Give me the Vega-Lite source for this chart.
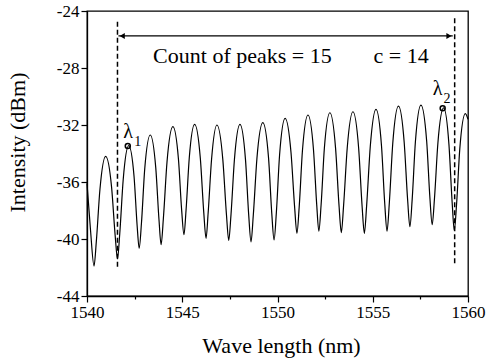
{
  "$schema": "https://vega.github.io/schema/vega-lite/v6.json",
  "width": 381,
  "height": 285,
  "autosize": {"type": "none"},
  "padding": {"left": 87, "top": 11, "right": 18, "bottom": 64},
  "background": "white",
  "config": {
    "view": {"stroke": "black", "strokeWidth": 1.3},
    "font": "Liberation Serif",
    "axis": {"grid": false, "domainColor": "black", "domainWidth": 1.3, "tickColor": "black", "tickWidth": 1.2, "labelColor": "black", "titleColor": "black", "labelFont": "Liberation Serif", "titleFont": "Liberation Serif", "labelFontSize": 17, "titleFontSize": 22, "titleFontWeight": "normal", "labelFlush": false, "labelOverlap": false}
  },
  "datasets": {
    "curve": [
      {"x":1540.0,"y":-36.1},{"x":1540.18,"y":-39.3},{"x":1540.37,"y":-41.9},{"x":1540.49,"y":-40.17},{"x":1540.68,"y":-36.51},
      {"x":1540.98,"y":-34.2},{"x":1541.29,"y":-36.36},{"x":1541.48,"y":-39.78},{"x":1541.6,"y":-41.4},{"x":1541.72,"y":-39.61},
      {"x":1541.9,"y":-35.84},{"x":1542.19,"y":-33.45},{"x":1542.47,"y":-35.61},{"x":1542.63,"y":-39.03},{"x":1542.74,"y":-40.65},
      {"x":1542.86,"y":-38.86},{"x":1543.03,"y":-35.09},{"x":1543.32,"y":-32.7},{"x":1543.61,"y":-35.01},{"x":1543.78,"y":-38.67},
      {"x":1543.89,"y":-40.4},{"x":1544.01,"y":-38.54},{"x":1544.2,"y":-34.6},{"x":1544.51,"y":-32.12},{"x":1544.8,"y":-34.39},
      {"x":1544.97,"y":-37.99},{"x":1545.09,"y":-39.7},{"x":1545.2,"y":-37.96},{"x":1545.37,"y":-34.28},{"x":1545.65,"y":-31.95},
      {"x":1545.95,"y":-34.35},{"x":1546.13,"y":-38.15},{"x":1546.25,"y":-39.95},{"x":1546.36,"y":-38.16},{"x":1546.54,"y":-34.39},
      {"x":1546.82,"y":-32.0},{"x":1547.13,"y":-34.43},{"x":1547.32,"y":-38.28},{"x":1547.44,"y":-40.1},{"x":1547.56,"y":-38.27},
      {"x":1547.74,"y":-34.4},{"x":1548.03,"y":-31.95},{"x":1548.32,"y":-34.43},{"x":1548.49,"y":-38.34},{"x":1548.61,"y":-40.2},
      {"x":1548.73,"y":-38.32},{"x":1548.92,"y":-34.35},{"x":1549.23,"y":-31.84},{"x":1549.53,"y":-34.31},{"x":1549.7,"y":-38.22},
      {"x":1549.82,"y":-40.07},{"x":1549.94,"y":-38.15},{"x":1550.11,"y":-34.09},{"x":1550.4,"y":-31.53},{"x":1550.71,"y":-33.95},
      {"x":1550.9,"y":-37.78},{"x":1551.02,"y":-39.6},{"x":1551.14,"y":-37.73},{"x":1551.31,"y":-33.79},{"x":1551.6,"y":-31.3},
      {"x":1551.89,"y":-33.75},{"x":1552.06,"y":-37.62},{"x":1552.17,"y":-39.45},{"x":1552.29,"y":-37.58},{"x":1552.46,"y":-33.63},
      {"x":1552.75,"y":-31.14},{"x":1553.05,"y":-33.66},{"x":1553.23,"y":-37.66},{"x":1553.35,"y":-39.55},{"x":1553.47,"y":-37.64},
      {"x":1553.66,"y":-33.61},{"x":1553.96,"y":-31.07},{"x":1554.26,"y":-33.63},{"x":1554.44,"y":-37.68},{"x":1554.56,"y":-39.6},
      {"x":1554.68,"y":-37.64},{"x":1554.87,"y":-33.51},{"x":1555.17,"y":-30.9},{"x":1555.46,"y":-33.47},{"x":1555.63,"y":-37.53},
      {"x":1555.75,"y":-39.45},{"x":1555.87,"y":-37.47},{"x":1556.05,"y":-33.3},{"x":1556.35,"y":-30.67},{"x":1556.65,"y":-33.21},
      {"x":1556.83,"y":-37.23},{"x":1556.95,"y":-39.14},{"x":1557.07,"y":-37.22},{"x":1557.24,"y":-33.16},{"x":1557.53,"y":-30.6},
      {"x":1557.83,"y":-33.12},{"x":1558.0,"y":-37.11},{"x":1558.12,"y":-39.0},{"x":1558.24,"y":-37.16},{"x":1558.42,"y":-33.26},
      {"x":1558.72,"y":-30.8},{"x":1559.0,"y":-33.38},{"x":1559.17,"y":-37.47},{"x":1559.28,"y":-39.4},{"x":1559.4,"y":-37.56},
      {"x":1559.57,"y":-33.66},{"x":1559.86,"y":-31.2},{"x":1560.0,"y":-31.6}
    ],
    "dashes": [
      {"x":1541.6,"y":-24.75,"y2":-42.1},
      {"x":1559.3,"y":-24.5,"y2":-41.7}
    ],
    "arrow": [
      {"x":1541.65,"x2":1559.2,"y":-25.75}
    ],
    "heads": [
      {"x":1541.85,"y":-25.75,"side":"left"},
      {"x":1559.0,"y":-25.75,"side":"right"}
    ],
    "markers": [
      {"x":1542.14,"y":-33.47},
      {"x":1558.67,"y":-30.83}
    ],
    "lambdas": [
      {"x":1542.16,"y":-32.93,"text":"λ"},
      {"x":1558.4,"y":-29.9,"text":"λ"}
    ],
    "subs": [
      {"x":1542.66,"y":-33.47,"text":"1"},
      {"x":1558.9,"y":-30.46,"text":"2"}
    ],
    "notes": [
      {"x":1543.47,"y":-27.63,"text":"Count of peaks = 15"},
      {"x":1555.04,"y":-27.63,"text":"c = 14"}
    ]
  },
  "layer": [
    {
      "data": {"name": "curve"},
      "mark": {"type": "line", "color": "black", "strokeWidth": 1.2, "interpolate": "monotone"},
      "encoding": {
        "x": {"field": "x", "type": "quantitative",
          "scale": {"domain": [1540, 1560], "nice": false, "zero": false},
          "axis": {"title": "Wave length (nm)", "values": [1540, 1542.5, 1545, 1547.5, 1550, 1552.5, 1555, 1557.5, 1560],
            "labelExpr": "datum.value % 5 == 0 ? '' + datum.value : ''",
            "tickSize": {"condition": {"test": "datum.value % 5 != 0", "value": 3}, "value": 6},
            "labelFont": "Liberation Serif", "titleFont": "Liberation Serif", "labelFontSize": 17, "titleFontSize": 22, "titleFontWeight": "normal",
            "labelPadding": 2, "titleX": 194, "titleY": 56, "titleBaseline": "alphabetic"}},
        "y": {"field": "y", "type": "quantitative",
          "scale": {"domain": [-44, -24], "nice": false, "zero": false},
          "axis": {"title": "Intensity (dBm)", "values": [-44, -42, -40, -38, -36, -34, -32, -30, -28, -26, -24],
            "labelExpr": "datum.value % 4 == 0 ? '' + datum.value : ''",
            "tickSize": {"condition": {"test": "datum.value % 4 != 0", "value": 3}, "value": 6},
            "labelFont": "Liberation Serif", "titleFont": "Liberation Serif", "labelFontSize": 17, "titleFontSize": 22, "titleFontWeight": "normal",
            "labelPadding": 2, "titleX": -70, "titleY": 131, "titleBaseline": "middle", "titleAngle": -90}}
      }
    },
    {
      "data": {"name": "dashes"},
      "mark": {"type": "rule", "color": "black", "strokeWidth": 1.5, "strokeDash": [5, 3]},
      "encoding": {
        "x": {"field": "x", "type": "quantitative"},
        "y": {"field": "y", "type": "quantitative"},
        "y2": {"field": "y2"}
      }
    },
    {
      "data": {"name": "arrow"},
      "mark": {"type": "rule", "color": "black", "strokeWidth": 1.2},
      "encoding": {
        "x": {"field": "x", "type": "quantitative"},
        "x2": {"field": "x2"},
        "y": {"field": "y", "type": "quantitative"}
      }
    },
    {
      "data": {"name": "heads"},
      "mark": {"type": "point", "filled": true, "color": "black", "size": 35, "opacity": 1},
      "encoding": {
        "x": {"field": "x", "type": "quantitative"},
        "y": {"field": "y", "type": "quantitative"},
        "shape": {"field": "side", "type": "nominal", "scale": {"domain": ["left", "right"], "range": ["triangle-left", "triangle-right"]}, "legend": null}
      }
    },
    {
      "data": {"name": "markers"},
      "mark": {"type": "point", "filled": false, "color": "black", "size": 25, "strokeWidth": 1.5, "opacity": 1},
      "encoding": {
        "x": {"field": "x", "type": "quantitative"},
        "y": {"field": "y", "type": "quantitative"}
      }
    },
    {
      "data": {"name": "lambdas"},
      "mark": {"type": "text", "font": "Liberation Serif", "fontSize": 20, "align": "center", "baseline": "alphabetic", "color": "black"},
      "encoding": {
        "x": {"field": "x", "type": "quantitative"},
        "y": {"field": "y", "type": "quantitative"},
        "text": {"field": "text"}
      }
    },
    {
      "data": {"name": "subs"},
      "mark": {"type": "text", "font": "Liberation Serif", "fontSize": 14, "align": "center", "baseline": "alphabetic", "color": "black"},
      "encoding": {
        "x": {"field": "x", "type": "quantitative"},
        "y": {"field": "y", "type": "quantitative"},
        "text": {"field": "text"}
      }
    },
    {
      "data": {"name": "notes"},
      "mark": {"type": "text", "font": "Liberation Serif", "fontSize": 22, "align": "left", "baseline": "alphabetic", "color": "black"},
      "encoding": {
        "x": {"field": "x", "type": "quantitative"},
        "y": {"field": "y", "type": "quantitative"},
        "text": {"field": "text"}
      }
    }
  ]
}
